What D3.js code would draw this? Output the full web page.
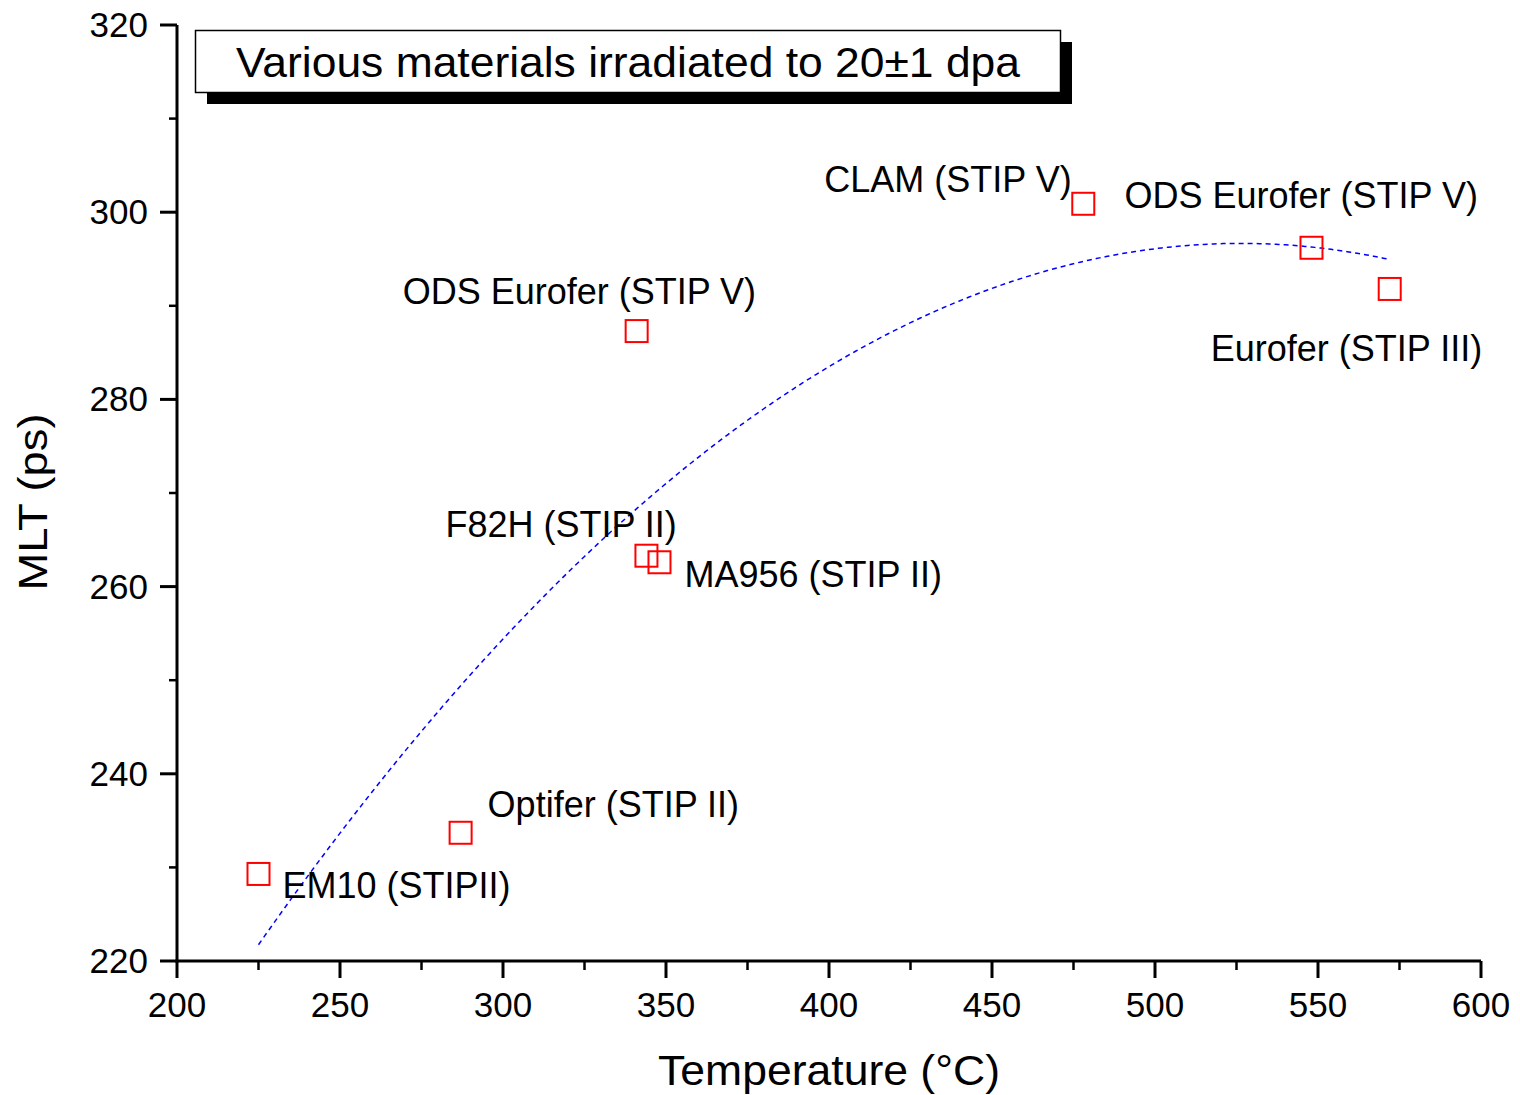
<!DOCTYPE html>
<html>
<head>
<meta charset="utf-8">
<script src="https://cdn.jsdelivr.net/npm/d3@7"></script>
<style>
  body { margin: 0; background: #fff; }
  text { font-family: "Liberation Sans", Arial, sans-serif; fill: #000; }
</style>
</head>
<body>
<svg id="chart" width="1520" height="1095" viewBox="0 0 1520 1095"></svg>
<script>
// irradiation temperature (°C) and mean lifetime (ps) per material
const materials = ["EM10 (STIPII)", "Optifer (STIP II)", "ODS Eurofer (STIP V)", "F82H (STIP II)",
                   "MA956 (STIP II)", "CLAM (STIP V)", "ODS Eurofer (STIP V)", "Eurofer (STIP III)"]
const temperature = [225, 287, 341, 344, 348, 478, 548, 572]
const mlt = [229.3, 233.7, 287.3, 263.3, 262.6, 300.9, 296.2, 291.8]
// label placement relative to each marker (px)
const labelOffset = [[24, 24], [27, -16], [-234, -27], [-201, -19], [25, 25], [-259, -12], [-187, -40], [-179, 72]]

const xTicks = [200, 250, 300, 350, 400, 450, 500, 550, 600]
const yTicks = [220, 240, 260, 280, 300, 320]

let svg = d3.select("#chart")

let x = d3.scaleLinear().domain([200, 600]).range([177, 1481])
let y = d3.scaleLinear().domain([220, 320]).range([961, 25])

// axes: major ticks with labels, minor ticks in between
let xAxis = svg.append("g").attr("transform", "translate(0,961)")
xAxis.append("line").attr("x1", x(200) - 1.5).attr("x2", x(600)).attr("stroke", "#000").attr("stroke-width", 3)
xAxis.selectAll(".minor").data(d3.range(225, 600, 50)).enter().append("line")
    .attr("x1", d => x(d)).attr("x2", d => x(d)).attr("y1", 0).attr("y2", 9)
    .attr("stroke", "#000").attr("stroke-width", 2.5)
xAxis.selectAll(".major").data(xTicks).enter().append("line")
    .attr("x1", d => x(d)).attr("x2", d => x(d)).attr("y1", 0).attr("y2", 17)
    .attr("stroke", "#000").attr("stroke-width", 3)
xAxis.selectAll(".tl").data(xTicks).enter().append("text")
    .attr("x", d => x(d)).attr("y", 56)
    .attr("text-anchor", "middle").attr("font-size", 35)
    .text(d => d)

let yAxis = svg.append("g").attr("transform", "translate(177,0)")
yAxis.append("line").attr("y1", y(220) + 1.5).attr("y2", y(320)).attr("stroke", "#000").attr("stroke-width", 3)
yAxis.selectAll(".minor").data(d3.range(230, 320, 20)).enter().append("line")
    .attr("y1", d => y(d)).attr("y2", d => y(d)).attr("x1", 0).attr("x2", -8)
    .attr("stroke", "#000").attr("stroke-width", 2.5)
yAxis.selectAll(".major").data(yTicks).enter().append("line")
    .attr("y1", d => y(d)).attr("y2", d => y(d)).attr("x1", 0).attr("x2", -17)
    .attr("stroke", "#000").attr("stroke-width", 3)
yAxis.selectAll(".tl").data(yTicks).enter().append("text")
    .attr("x", -29).attr("y", d => y(d) + 12)
    .attr("text-anchor", "end").attr("font-size", 35)
    .text(d => d)

svg.append("text")
    .attr("x", (x(200) + x(600)) / 2).attr("y", 1085)
    .attr("text-anchor", "middle").attr("font-size", 43)
    .attr("textLength", 342).attr("lengthAdjust", "spacingAndGlyphs")
    .text("Temperature (°C)")
svg.append("text")
    .attr("transform", "translate(47,502) rotate(-90)")
    .attr("text-anchor", "middle").attr("font-size", 40)
    .attr("textLength", 177).attr("lengthAdjust", "spacingAndGlyphs")
    .text("MLT (ps)")

// least squares 2nd order polynomial through the points
function polyFit(xs, ys) {
    let S = [0, 0, 0, 0, 0], T = [0, 0, 0]
    xs.forEach((xv, i) => {
        for (let k = 0; k < 5; k++) S[k] += Math.pow(xv, k)
        for (let k = 0; k < 3; k++) T[k] += Math.pow(xv, k) * ys[i]
    })
    let A = [[S[0], S[1], S[2], T[0]], [S[1], S[2], S[3], T[1]], [S[2], S[3], S[4], T[2]]]
    for (let i = 0; i < 3; i++) {
        for (let j = i + 1; j < 3; j++) {
            let f = A[j][i] / A[i][i]
            for (let k = i; k < 4; k++) A[j][k] -= f * A[i][k]
        }
    }
    let c = [0, 0, 0]
    for (let i = 2; i >= 0; i--) {
        let s = A[i][3]
        for (let k = i + 1; k < 3; k++) s -= A[i][k] * c[k]
        c[i] = s / A[i][i]
    }
    return c
}
let coef = polyFit(temperature, mlt)
let fitX = d3.range(d3.min(temperature), d3.max(temperature) + 1, 1)
let fitLine = d3.line()
    .x(d => x(d))
    .y(d => y(coef[0] + coef[1] * d + coef[2] * d * d))
svg.append("path")
    .datum(fitX)
    .attr("d", fitLine)
    .attr("fill", "none")
    .attr("stroke", "#0000ff")
    .attr("stroke-width", 1.5)
    .attr("stroke-dasharray", "5,4")

// markers
svg.append("g").selectAll("rect")
    .data(temperature).enter().append("rect")
    .attr("x", (d, i) => x(d) - 11)
    .attr("y", (d, i) => y(mlt[i]) - 11)
    .attr("width", 22).attr("height", 22)
    .attr("fill", "none").attr("stroke", "#ff0000").attr("stroke-width", 2)

svg.append("g").selectAll("text")
    .data(materials).enter().append("text")
    .attr("x", (d, i) => x(temperature[i]) + labelOffset[i][0])
    .attr("y", (d, i) => y(mlt[i]) + labelOffset[i][1])
    .attr("font-size", 36)
    .text(d => d)

// title box with drop shadow
let title = svg.append("g")
title.append("rect").attr("x", 207).attr("y", 42).attr("width", 865).attr("height", 62).attr("fill", "#000")
title.append("rect").attr("x", 195.5).attr("y", 30.5).attr("width", 865).attr("height", 62)
    .attr("fill", "#fff").attr("stroke", "#000").attr("stroke-width", 1.5)
title.append("text")
    .attr("x", 236).attr("y", 77)
    .attr("font-size", 42)
    .attr("textLength", 784).attr("lengthAdjust", "spacingAndGlyphs")
    .text("Various materials irradiated to 20±1 dpa")
</script>
</body>
</html>
